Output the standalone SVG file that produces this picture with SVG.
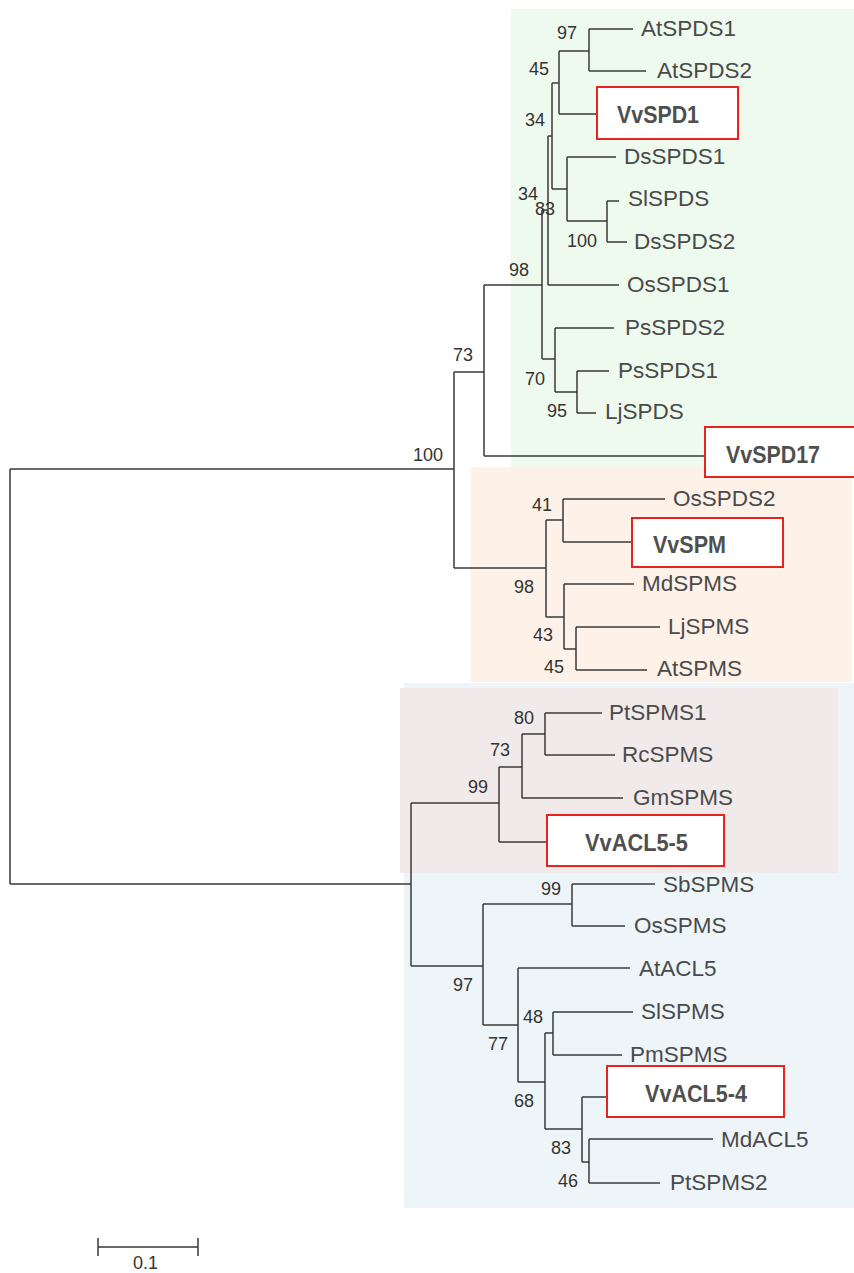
<svg xmlns="http://www.w3.org/2000/svg" width="854" height="1273" viewBox="0 0 854 1273">
<style>
.br{fill:none;stroke:#3a3a3a;stroke-width:1.5}
.tx{font-family:"Liberation Sans",Arial,sans-serif;font-size:22.5px;fill:#4a4a4a}
.bs{font-family:"Liberation Sans",Arial,sans-serif;font-size:18px;fill:#333}
.hl{fill:#fff;stroke:#e8231f;stroke-width:2}
.hb{font-family:"Liberation Sans",Arial,sans-serif;font-size:24px;font-weight:bold;fill:#4f4f4f}
</style>
<rect width="854" height="1273" fill="#fff"/>
<g id="bg">
<rect x="511" y="9" width="343" height="468" fill="#effaee"/>
<rect x="471" y="467" width="381" height="215" fill="#fdf1e8"/>
<rect x="404" y="683" width="450" height="525" fill="#eef5f8"/>
<rect x="400" y="688" width="438" height="185" fill="#f1eaea"/>
</g>
<g id="connectors" class="br">
<path d="M10,469V884M10,469H454M10,884H411"/>
<path d="M454,372V568M454,372H484M454,568H546"/>
<path d="M484,285V456M484,285H542M484,456H705"/>
<path d="M542,210V359M542,210H548M542,359H555"/>
<path d="M548,136V285M548,136H552M548,285H619"/>
<path d="M552,83V189M552,83H559M552,189H567"/>
<path d="M559,51V114M559,51H589M559,114H597"/>
<path d="M589,29V71M589,29H633M589,71H646"/>
<path d="M567,157V221M567,157H616M567,221H607"/>
<path d="M607,201V242M607,201H619M607,242H627"/>
<path d="M555,328V392M555,328H614M555,392H577"/>
<path d="M577,371V413M577,371H609M577,413H596"/>
<path d="M546,520V617M546,520H563M546,617H564"/>
<path d="M563,499V542M563,499H665M563,542H632"/>
<path d="M564,584V649M564,584H634M564,649H576"/>
<path d="M576,627V670M576,627H660M576,670H647"/>
<path d="M411,803V966M411,803H499M411,966H483"/>
<path d="M499,767V842M499,767H522M499,842H547"/>
<path d="M522,734V798M522,734H545M522,798H623"/>
<path d="M545,713V755M545,713H602M545,755H615"/>
<path d="M483,904V1025M483,904H572M483,1025H518"/>
<path d="M572,884V926M572,884H655M572,926H625"/>
<path d="M518,968V1082M518,968H630M518,1082H545"/>
<path d="M545,1033V1129M545,1033H553M545,1129H582"/>
<path d="M553,1012V1055M553,1012H633M553,1055H622"/>
<path d="M582,1097V1162M582,1097H607M582,1162H589"/>
<path d="M589,1139V1183M589,1139H713M589,1183H660"/>
</g>
<g id="bootstrap" class="bs">
<text x="413" y="461">100</text>
<text x="453" y="361">73</text>
<text x="509" y="276">98</text>
<text x="557" y="39">97</text>
<text x="529" y="75">45</text>
<text x="525" y="126">34</text>
<text x="518" y="200">34</text>
<text x="535" y="215">83</text>
<text x="567" y="247">100</text>
<text x="525" y="385">70</text>
<text x="547" y="417">95</text>
<text x="532" y="511">41</text>
<text x="514" y="593">98</text>
<text x="533" y="641">43</text>
<text x="544" y="673">45</text>
<text x="514" y="724">80</text>
<text x="490" y="756">73</text>
<text x="468" y="793">99</text>
<text x="541" y="895">99</text>
<text x="453" y="991">97</text>
<text x="523" y="1023">48</text>
<text x="488" y="1050">77</text>
<text x="514" y="1107">68</text>
<text x="551" y="1154">83</text>
<text x="558" y="1187">46</text>
</g>
<g id="AtSPDS1"><text class="tx" x="641" y="36">AtSPDS1</text></g>
<g id="AtSPDS2"><text class="tx" x="657" y="78">AtSPDS2</text></g>
<g id="VvSPD1"><rect class="hl" x="597" y="87" width="141" height="52"/><text class="hb" x="617" y="123" textLength="82" lengthAdjust="spacingAndGlyphs">VvSPD1</text></g>
<g id="DsSPDS1"><text class="tx" x="624" y="164">DsSPDS1</text></g>
<g id="SlSPDS"><text class="tx" x="628" y="206">SlSPDS</text></g>
<g id="DsSPDS2"><text class="tx" x="634" y="249">DsSPDS2</text></g>
<g id="OsSPDS1"><text class="tx" x="627" y="292">OsSPDS1</text></g>
<g id="PsSPDS2"><text class="tx" x="625" y="335">PsSPDS2</text></g>
<g id="PsSPDS1"><text class="tx" x="618" y="378">PsSPDS1</text></g>
<g id="LjSPDS"><text class="tx" x="605" y="419">LjSPDS</text></g>
<g id="VvSPD17"><rect class="hl" x="705" y="427" width="150" height="50"/><text class="hb" x="726" y="463" textLength="94" lengthAdjust="spacingAndGlyphs">VvSPD17</text></g>
<g id="OsSPDS2"><text class="tx" x="673" y="506">OsSPDS2</text></g>
<g id="VvSPM"><rect class="hl" x="632" y="518" width="151" height="49"/><text class="hb" x="653" y="553" textLength="73" lengthAdjust="spacingAndGlyphs">VvSPM</text></g>
<g id="MdSPMS"><text class="tx" x="642" y="591">MdSPMS</text></g>
<g id="LjSPMS"><text class="tx" x="668" y="634">LjSPMS</text></g>
<g id="AtSPMS"><text class="tx" x="657" y="676">AtSPMS</text></g>
<g id="PtSPMS1"><text class="tx" x="609" y="720" fill="#5a5a5a">PtSPMS1</text></g>
<g id="RcSPMS"><text class="tx" x="622" y="762" fill="#5a5a5a">RcSPMS</text></g>
<g id="GmSPMS"><text class="tx" x="633" y="805" fill="#5a5a5a">GmSPMS</text></g>
<g id="VvACL5-5"><rect class="hl" x="547" y="815" width="177" height="51"/><text class="hb" x="585" y="851" textLength="103" lengthAdjust="spacingAndGlyphs">VvACL5-5</text></g>
<g id="SbSPMS"><text class="tx" x="663" y="892">SbSPMS</text></g>
<g id="OsSPMS"><text class="tx" x="634" y="933">OsSPMS</text></g>
<g id="AtACL5"><text class="tx" x="639" y="976">AtACL5</text></g>
<g id="SlSPMS"><text class="tx" x="641" y="1019">SlSPMS</text></g>
<g id="PmSPMS"><text class="tx" x="630" y="1062">PmSPMS</text></g>
<g id="VvACL5-4"><rect class="hl" x="607" y="1066" width="177" height="51"/><text class="hb" x="645" y="1102" textLength="102" lengthAdjust="spacingAndGlyphs">VvACL5-4</text></g>
<g id="MdACL5"><text class="tx" x="721" y="1147">MdACL5</text></g>
<g id="PtSPMS2"><text class="tx" x="670" y="1190">PtSPMS2</text></g>
<g id="scale">
<path class="br" d="M98,1247H198M98,1238V1256M198,1238V1256"/>
<text class="bs" x="133" y="1269">0.1</text>
</g>
</svg>
